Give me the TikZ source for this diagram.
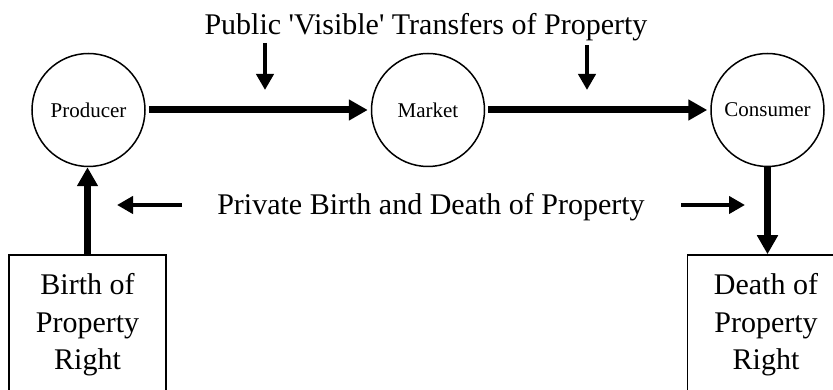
\documentclass[tikz,border=0pt]{standalone}
\usepackage{fontspec}
\setmainfont{Liberation Serif}
\usetikzlibrary{arrows.meta, calc, positioning}
\tikzset{party/.style={draw, circle, line width=1.5pt, minimum size=113pt, inner sep=0pt, font=\fontsize{21}{25}\selectfont}}
\tikzset{rightbox/.style={draw, line width=1.5pt, minimum width=157pt, minimum height=140pt, align=center, font=\fontsize{30}{37.5}\selectfont}}
\tikzset{caption/.style={inner sep=0pt, anchor=base, font=\fontsize{30}{36}\selectfont}}
\tikzset{flow/.style={line width=7pt, -{Triangle[length=19pt, width=20pt]}}}
\tikzset{hint/.style={line width=4pt, -{Triangle[length=16pt, width=17pt]}}}

\begin{document}
\begin{tikzpicture}[x=1pt, y=1pt]
        \useasboundingbox (0, 0) rectangle (833, 390);
        \clip (0, 0) rectangle (833, 390);

        \node [party] (Prod) at (88.5, 280) {Producer};
        \node [party] (Mark) at (428, 280) {Market};
        \node [party] (Cons) at (767.5, 280) {Consumer};

        \node [rightbox] (Birth) at (87.5, 65) {Birth of\\Property\\Right};
        \node [rightbox] (Death) at (766, 65) {Death of\\Property\\Right};

        \node [caption] (Pub) at (426, 355) {Public \textquotesingle Visible\textquotesingle{} Transfers of Property};
        \node [caption] (Priv) at (431, 175) {Private Birth and Death of Property};

        \draw [flow, shorten <=3pt, shorten >=3pt] (Prod.east) -- (Mark.west);
        \draw [flow, shorten <=3pt, shorten >=3pt] (Mark.east) -- (Cons.west);
        \draw [flow] (Birth.north) -- (Birth.north |- Prod.south);
        \draw [flow] (Cons.south) -- (Cons.south |- Death.north);

        \coordinate (PubA) at (265, 347);
        \coordinate (PubAend) at (265, 300);
        \coordinate (PubB) at (587, 345);
        \coordinate (PubBend) at (587, 300);
        \coordinate (PrivL) at (182, 185);
        \coordinate (PrivLend) at (117, 185);
        \coordinate (PrivR) at (681, 185);
        \coordinate (PrivRend) at (745, 185);

        \draw [hint] (PubA) -- (PubAend);
        \draw [hint] (PubB) -- (PubBend);
        \draw [hint] (PrivL) -- (PrivLend);
        \draw [hint] (PrivR) -- (PrivRend);
    \end{tikzpicture}
\end{document}
